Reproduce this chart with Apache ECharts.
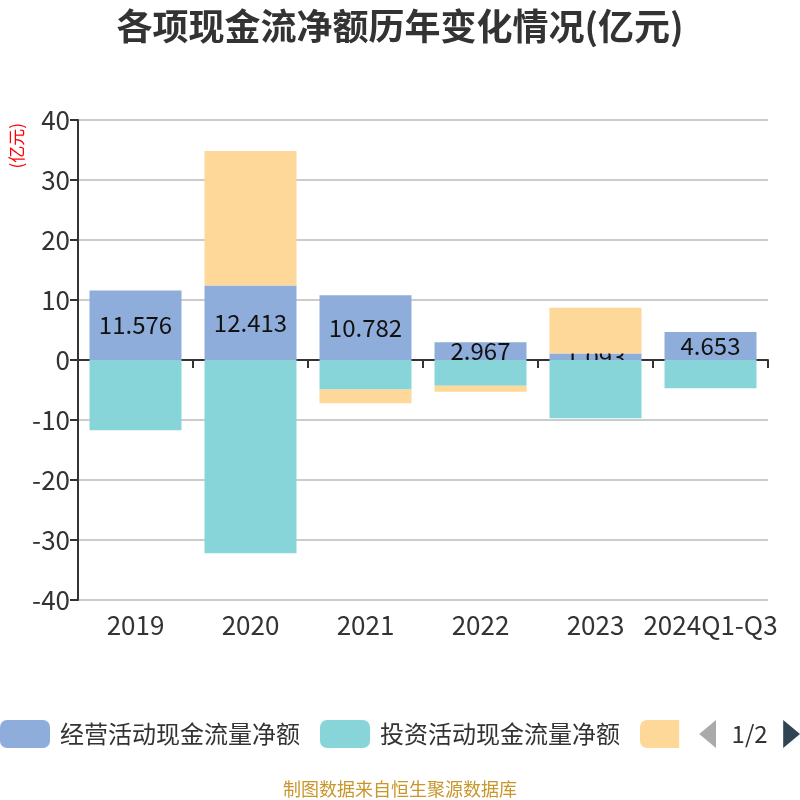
<!DOCTYPE html>
<html><head><meta charset="utf-8">
<script src="https://cdn.jsdelivr.net/npm/echarts@6/dist/echarts.min.js"></script>
<style>html,body{margin:0;padding:0;background:#fff}#c{width:800px;height:800px}</style>
</head><body><div id="c"></div>
<script>
var categories = ['2019', '2020', '2021', '2022', '2023', '2024Q1-Q3'];
var operating = [11.576, 12.413, 10.782, 2.967, 1.093, 4.653];
var investing = [-11.7, -32.2, -4.9, -4.3, -9.7, -4.7];
var financing = [null, 22.4, -2.3, -1.0, 7.6, null];
var seriesNames = ['经营活动现金流量净额', '投资活动现金流量净额', '筹资活动现金流量净额'];
var yTicks = {min: -40, max: 40, interval: 10};

var font = '"Microsoft YaHei","Noto Sans CJK SC",sans-serif';
var chart = echarts.init(document.getElementById('c'));
chart.setOption({
  animation: false,
  textStyle: {fontFamily: font},
  title: {
    text: '各项现金流净额历年变化情况(亿元)', left: 'center', top: 3,
    textStyle: {fontSize: 36, fontWeight: 'bold', color: '#333', fontFamily: font}
  },
  grid: {left: 78, right: 32, top: 120, bottom: 200},
  legend: {
    type: 'scroll', bottom: 47, left: 0, right: 0, padding: [5, 0, 5, 0],
    itemWidth: 50, itemHeight: 28, itemGap: 20,
    textStyle: {fontSize: 24, color: '#333', padding: [0, 0, 0, 5]},
    pageIconSize: [18, 28], pageIconColor: '#2f4554', pageIconInactiveColor: '#aaa',
    pageTextStyle: {fontSize: 24, color: '#333'},
    data: seriesNames
  },
  graphic: [
    {type: 'text', left: 8, top: 123, rotation: Math.PI / 2,
     style: {text: '(亿元)', fill: '#ff0000', fontSize: 17, fontFamily: font}},
    {type: 'text', left: 'center', bottom: 2,
     style: {text: '制图数据来自恒生聚源数据库', fill: '#c9962a', fontSize: 18, fontFamily: font}}
  ],
  xAxis: [{
    type: 'category', data: categories,
    axisLine: {onZero: true, lineStyle: {color: '#333', width: 2}},
    axisTick: {show: true, length: 8, lineStyle: {color: '#333', width: 2}},
    axisLabel: {show: false}
  }, {
    type: 'category', data: categories, position: 'bottom',
    axisLine: {show: false, onZero: false}, axisTick: {show: false},
    axisLabel: {fontSize: 26, color: '#333', margin: 12, interval: 0}
  }],
  yAxis: {
    type: 'value', min: yTicks.min, max: yTicks.max, interval: yTicks.interval,
    axisLine: {show: true, lineStyle: {color: '#333', width: 2}},
    axisTick: {show: true, length: 8, lineStyle: {color: '#333', width: 2}},
    axisLabel: {fontSize: 26, color: '#333', margin: 8},
    splitLine: {lineStyle: {color: '#ccc', width: 2}}
  },
  series: [
    {name: seriesNames[0], type: 'bar', stack: 'total', data: operating, barWidth: '80%', z: 2,
     itemStyle: {color: '#8FADDB'},
     label: {show: true, position: 'inside', fontSize: 24, color: '#111', formatter: function(p){return p.value.toFixed(3);}}},
    {name: seriesNames[1], type: 'bar', stack: 'total', data: investing, barWidth: '80%', z: 3,
     itemStyle: {color: '#87D5D9'}},
    {name: seriesNames[2], type: 'bar', stack: 'total', data: financing, barWidth: '80%', z: 3,
     itemStyle: {color: '#FED899'}}
  ]
});
</script></body></html>
